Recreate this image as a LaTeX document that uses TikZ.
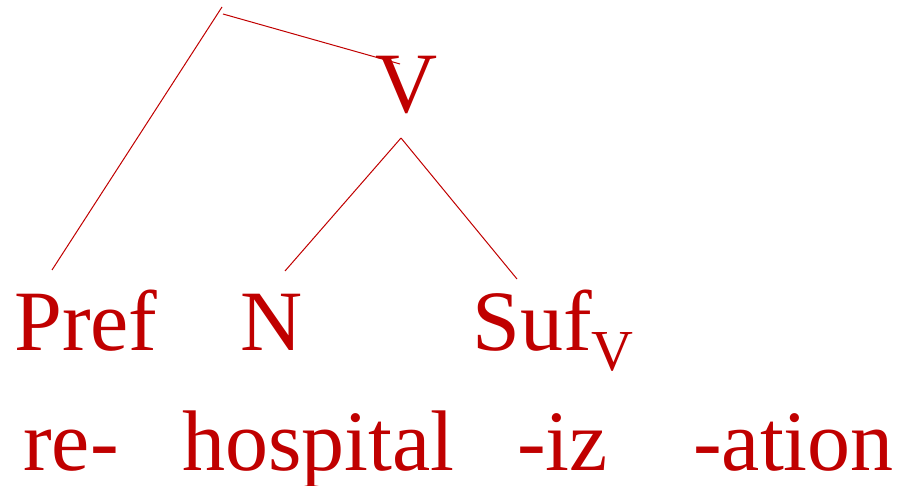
\documentclass[tikz,border=0pt]{standalone}
\usepackage{fontspec}
\setmainfont{Liberation Serif}
\usepackage{tikz}
\definecolor{TreeRed}{HTML}{C00000}

\begin{document}
\begin{tikzpicture}[
  x=1pt, y=-1pt,
  every node/.style={inner sep=0pt, anchor=base west, text=TreeRed,
    font=\fontsize{86}{100}\selectfont},
  branch/.style={draw=TreeRed, line width=1pt}
]
\useasboundingbox (0,0) rectangle (897,486);
\coordinate (root) at (222,7);
\node (v) at (375,113) {V};
\node (pref) at (14,351) {Pref};
\node (n) at (240,351) {N};
\node (suf) at (472,351) {Suf\raisebox{-20pt}{\fontsize{58}{60}\selectfont V}};
\node (re) at (23,470) {re-};
\node (hospital) at (182,470) {hospital};
\node (iz) at (517,470) {-iz};
\node (ation) at (693,470) {-ation};
\draw[branch] (root) -- ([shift={(38,-81)}]pref.base west);
\draw[branch] ([shift={(1,7)}]root) -- ([shift={(25,-49)}]v.base west);
\draw[branch] ([shift={(26,25)}]v.base west) -- ([shift={(45,-80)}]n.base west);
\draw[branch] ([shift={(26,25)}]v.base west) -- ([shift={(45,-72)}]suf.base west);
\end{tikzpicture}
\end{document}
